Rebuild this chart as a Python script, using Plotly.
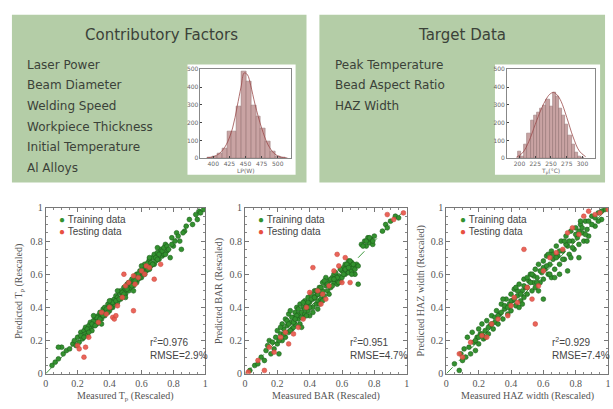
import plotly.graph_objects as go

W, H = 613, 409

# ---------------- data ----------------
factors = ["Laser Power", "Beam Diameter", "Welding Speed", "Workpiece Thickness",
           "Initial Temperature", "Al Alloys"]
targets = ["Peak Temperature", "Bead Aspect Ratio", "HAZ Width"]

# left histogram (laser power)
h1_centers = [395, 402.5, 410, 417.5, 425, 432.5, 440, 447.5, 455, 462.5, 470, 477.5, 485, 492.5, 500, 507.5]
h1_counts = [4, 10, 25, 55, 150, 150, 290, 490, 435, 300, 235, 170, 95, 40, 12, 3]
h1_curve_x = [390, 400, 410, 420, 430, 437, 443, 448, 453, 458, 465, 475, 485, 495, 505, 515]
h1_curve_y = [2, 8, 28, 75, 170, 290, 400, 480, 470, 410, 300, 170, 75, 25, 6, 1]
h1_ticks = [400, 425, 450, 475, 500]

# right histogram (peak temperature)
h2_centers = [200, 205, 210, 215, 220, 225, 230, 235, 240, 245, 250, 255, 260, 265, 270, 275, 280, 285, 290, 295, 300]
h2_counts = [40, 10, 80, 140, 210, 240, 260, 280, 300, 330, 290, 370, 350, 280, 240, 190, 130, 80, 30, 10, 5]
h2_curve_x = [195, 205, 215, 225, 235, 242, 248, 254, 260, 266, 275, 285, 295, 305]
h2_curve_y = [5, 30, 95, 190, 280, 330, 360, 370, 355, 320, 230, 120, 40, 8]
h2_ticks = [200, 225, 250, 275, 300]

# scatter 1 : peak temperature
tp_train_x = [0.04,0.06,0.08,0.10,0.11,0.13,0.15,0.17,0.18,0.19,0.20,0.21,0.22,0.23,0.24,0.25,0.25,0.26,0.27,0.28,
              0.28,0.29,0.30,0.30,0.31,0.32,0.33,0.33,0.34,0.35,0.35,0.36,0.37,0.37,0.38,0.39,0.40,0.40,0.41,0.42,
              0.43,0.43,0.44,0.45,0.45,0.46,0.47,0.47,0.48,0.49,0.50,0.50,0.51,0.52,0.52,0.53,0.54,0.55,0.55,0.56,
              0.57,0.57,0.58,0.59,0.60,0.60,0.61,0.62,0.62,0.63,0.64,0.65,0.65,0.66,0.67,0.68,0.68,0.69,0.70,0.71,
              0.72,0.73,0.74,0.75,0.76,0.78,0.79,0.80,0.82,0.84,0.85,0.87,0.90,0.92,0.94,0.95,0.96,0.97,0.99,0.08,
              0.22,0.24,0.26,0.27,0.29,0.31,0.32,0.34,0.36,0.38,0.39,0.41,0.42,0.44,0.46,0.48,0.49,0.51,0.53,0.54,
              0.56,0.58,0.59,0.61,0.63,0.64,0.66,0.67,0.69,0.70,0.71,0.73,0.74,0.76,0.77,0.79,0.81,0.83,0.86,0.88,
              0.35,0.45,0.55,0.65,0.75,0.30,0.40,0.50,0.60,0.70]
tp_train_y = [0.05,0.07,0.09,0.16,0.12,0.14,0.15,0.18,0.20,0.17,0.22,0.19,0.25,0.21,0.26,0.24,0.28,0.23,0.29,0.27,
              0.31,0.26,0.32,0.29,0.34,0.30,0.35,0.32,0.37,0.33,0.36,0.39,0.35,0.40,0.37,0.42,0.38,0.41,0.44,0.40,
              0.45,0.42,0.47,0.43,0.46,0.49,0.45,0.50,0.47,0.52,0.48,0.51,0.54,0.50,0.55,0.52,0.57,0.53,0.56,0.59,
              0.55,0.60,0.57,0.62,0.58,0.61,0.64,0.60,0.66,0.62,0.67,0.63,0.69,0.65,0.70,0.66,0.72,0.68,0.73,0.69,
              0.75,0.71,0.72,0.78,0.74,0.70,0.82,0.77,0.85,0.80,0.75,0.86,0.93,0.90,0.96,0.93,0.98,0.97,0.99,0.16,
              0.23,0.22,0.27,0.25,0.30,0.29,0.34,0.33,0.35,0.39,0.37,0.40,0.43,0.44,0.45,0.49,0.48,0.51,0.54,0.53,
              0.56,0.60,0.58,0.61,0.64,0.63,0.67,0.66,0.70,0.69,0.72,0.74,0.76,0.77,0.75,0.78,0.80,0.83,0.85,0.89,
              0.30,0.50,0.50,0.70,0.72,0.35,0.44,0.46,0.65,0.76]
tp_test_x = [0.20,0.21,0.25,0.24,0.27,0.33,0.38,0.42,0.43,0.44,0.45,0.48,0.50,0.52,0.55,0.56,0.58,0.60,0.62,0.63,
             0.65,0.68,0.72,0.49,0.55,0.40,0.35]
tp_test_y = [0.17,0.15,0.16,0.10,0.22,0.31,0.36,0.34,0.33,0.35,0.41,0.46,0.53,0.55,0.38,0.54,0.58,0.62,0.60,0.65,
             0.64,0.57,0.66,0.60,0.59,0.40,0.37]

# scatter 2 : bead aspect ratio
bar_train_x = [0.03,0.06,0.08,0.10,0.12,0.13,0.15,0.16,0.18,0.19,0.20,0.20,0.21,0.22,0.23,0.23,0.24,0.25,0.25,0.26,
               0.27,0.27,0.28,0.28,0.29,0.30,0.30,0.31,0.31,0.32,0.33,0.33,0.34,0.34,0.35,0.36,0.36,0.37,0.37,0.38,
               0.39,0.39,0.40,0.40,0.41,0.42,0.42,0.43,0.44,0.44,0.45,0.46,0.46,0.47,0.48,0.48,0.49,0.50,0.50,0.51,
               0.52,0.53,0.54,0.55,0.55,0.56,0.57,0.58,0.59,0.60,0.60,0.61,0.62,0.62,0.63,0.64,0.64,0.65,0.66,0.66,
               0.67,0.68,0.69,0.70,0.72,0.74,0.75,0.76,0.77,0.78,0.79,0.80,0.85,0.87,0.88,0.90,0.93,0.95,0.35,0.45,
               0.14,0.17,0.21,0.22,0.24,0.26,0.28,0.29,0.30,0.32,0.33,0.35,0.36,0.37,0.38,0.40,0.41,0.42,0.43,0.45,
               0.47,0.48,0.49,0.51,0.52,0.53,0.54,0.56,0.57,0.58,0.59,0.61,0.62,0.63,0.64,0.65,0.66,0.67,0.68,0.70,
               0.73,0.75,0.77,0.79,0.44,0.39,0.27,0.31,0.46,0.55]
bar_train_y = [0.02,0.05,0.06,0.10,0.08,0.14,0.20,0.12,0.15,0.22,0.18,0.26,0.12,0.24,0.30,0.20,0.27,0.33,0.22,0.29,
               0.36,0.25,0.31,0.38,0.27,0.34,0.28,0.37,0.30,0.40,0.33,0.36,0.30,0.42,0.37,0.34,0.40,0.44,0.36,0.41,
               0.38,0.46,0.43,0.35,0.48,0.40,0.45,0.50,0.42,0.47,0.44,0.52,0.48,0.45,0.50,0.55,0.47,0.53,0.58,0.50,
               0.56,0.52,0.58,0.55,0.60,0.57,0.54,0.59,0.56,0.62,0.58,0.64,0.60,0.66,0.63,0.68,0.61,0.65,0.62,0.67,
               0.64,0.60,0.66,0.54,0.78,0.80,0.77,0.82,0.79,0.81,0.78,0.83,0.86,0.90,0.88,0.92,0.95,0.94,0.28,0.39,
               0.17,0.19,0.20,0.28,0.24,0.32,0.26,0.34,0.31,0.35,0.39,0.34,0.43,0.39,0.35,0.40,0.45,0.37,0.46,0.48,
               0.52,0.44,0.56,0.54,0.48,0.57,0.53,0.61,0.58,0.55,0.63,0.60,0.63,0.66,0.64,0.68,0.60,0.66,0.63,0.65,
               0.77,0.80,0.82,0.80,0.50,0.43,0.30,0.33,0.42,0.57]
bar_test_x = [0.02,0.08,0.12,0.15,0.18,0.22,0.25,0.27,0.30,0.33,0.38,0.40,0.42,0.45,0.47,0.50,0.52,0.55,0.57,0.58,
              0.60,0.62,0.65,0.88,0.92,0.98,0.48,0.36]
bar_test_y = [0.01,0.08,0.02,0.16,0.13,0.22,0.25,0.18,0.24,0.28,0.40,0.49,0.64,0.50,0.42,0.45,0.53,0.62,0.72,0.65,
              0.55,0.70,0.55,0.96,0.93,0.97,0.48,0.33]

# scatter 3 : HAZ width
haz_train_x = [0.05,0.08,0.09,0.10,0.11,0.12,0.13,0.14,0.15,0.16,0.17,0.18,0.19,0.20,0.20,0.21,0.22,0.23,0.24,0.25,
               0.26,0.27,0.28,0.29,0.30,0.31,0.32,0.33,0.34,0.35,0.36,0.37,0.38,0.39,0.40,0.40,0.41,0.42,0.43,0.44,
               0.45,0.46,0.47,0.48,0.48,0.49,0.50,0.51,0.52,0.53,0.54,0.55,0.55,0.56,0.57,0.58,0.59,0.60,0.60,0.61,
               0.62,0.63,0.64,0.65,0.65,0.66,0.67,0.68,0.69,0.70,0.71,0.72,0.73,0.74,0.75,0.76,0.77,0.78,0.79,0.80,
               0.81,0.82,0.83,0.84,0.85,0.86,0.87,0.88,0.90,0.92,0.94,0.96,0.98,0.60,0.70,0.45,0.50,0.75,0.35,0.82,
               0.18,0.20,0.22,0.24,0.26,0.28,0.30,0.32,0.34,0.36,0.38,0.40,0.42,0.44,0.46,0.48,0.50,0.52,0.54,0.56,
               0.58,0.60,0.62,0.64,0.66,0.68,0.70,0.72,0.74,0.76,0.78,0.80,0.82,0.84,0.86,0.88,0.90,0.92,0.94,0.96,
               0.43,0.47,0.53,0.57,0.63,0.67,0.73,0.77,0.83,0.87]
haz_train_y = [0.06,0.02,0.12,0.08,0.15,0.10,0.22,0.16,0.12,0.25,0.19,0.14,0.22,0.27,0.18,0.24,0.30,0.21,0.26,0.32,
               0.24,0.29,0.35,0.27,0.31,0.38,0.30,0.36,0.42,0.33,0.39,0.45,0.36,0.42,0.48,0.38,0.44,0.51,0.41,0.47,
               0.54,0.44,0.50,0.57,0.46,0.52,0.48,0.56,0.60,0.50,0.55,0.63,0.52,0.58,0.66,0.55,0.61,0.68,0.57,0.63,
               0.71,0.60,0.66,0.74,0.58,0.69,0.63,0.77,0.71,0.66,0.80,0.74,0.69,0.83,0.77,0.72,0.86,0.80,0.75,0.88,
               0.82,0.78,0.90,0.85,0.80,0.92,0.87,0.83,0.95,0.89,0.97,0.93,0.99,0.45,0.60,0.40,0.58,0.62,0.45,0.70,
               0.20,0.22,0.24,0.22,0.28,0.30,0.34,0.35,0.37,0.41,0.40,0.44,0.45,0.50,0.48,0.53,0.52,0.55,0.59,0.55,
               0.62,0.64,0.65,0.60,0.72,0.70,0.74,0.69,0.78,0.80,0.76,0.84,0.86,0.88,0.84,0.92,0.90,0.94,0.92,0.98,
               0.52,0.42,0.60,0.50,0.72,0.58,0.80,0.70,0.92,0.80]
haz_test_x = [0.08,0.10,0.15,0.22,0.25,0.28,0.32,0.38,0.42,0.44,0.48,0.50,0.53,0.55,0.57,0.60,0.64,0.68,0.72,0.75,
              0.78,0.82,0.85,0.88,0.92,0.95,1.00,0.40]
haz_test_y = [0.12,0.10,0.19,0.23,0.22,0.30,0.33,0.35,0.46,0.43,0.75,0.52,0.45,0.30,0.53,0.62,0.70,0.73,0.75,0.85,
              0.88,0.84,0.95,0.98,0.96,0.97,0.99,0.41]

stats = [("0.976", "2.9%"), ("0.951", "4.7%"), ("0.929", "7.4%")]
x_titles = ["Measured T<sub>p</sub> (Rescaled)", "Measured BAR (Rescaled)", "Measured HAZ width (Rescaled)"]
y_titles = ["Predicted T<sub>p</sub> (Rescaled)", "Predicted BAR (Rescaled)", "Predicted HAZ width (Rescaled)"]
unit_ticks = [0, 0.2, 0.4, 0.6, 0.8, 1]
unit_labels = ["0", "0.2", "0.4", "0.6", "0.8", "1"]

# ---------------- helpers ----------------
def px(x):
    return x / W

def py(y):
    return 1 - y / H

GREEN_BG = "#b4cda7"
TXT = "#3b4239"
SERIF = "Liberation Serif"
SANS = "DejaVu Sans"

fig = go.Figure()
shapes = []
annotations = []

# green panels
shapes.append(dict(type="rect", xref="paper", yref="paper", x0=px(9), x1=px(306), y0=py(182), y1=py(10),
                   fillcolor=GREEN_BG, line=dict(width=0), layer="below"))
shapes.append(dict(type="rect", xref="paper", yref="paper", x0=px(319), x1=px(607), y0=py(182), y1=py(10),
                   fillcolor=GREEN_BG, line=dict(width=0), layer="below"))
# white boxes behind histograms
shapes.append(dict(type="rect", xref="paper", yref="paper", x0=px(186), x1=px(295), y0=py(174), y1=py(61),
                   fillcolor="white", line=dict(width=0), layer="below"))
shapes.append(dict(type="rect", xref="paper", yref="paper", x0=px(496), x1=px(602), y0=py(174), y1=py(61),
                   fillcolor="white", line=dict(width=0), layer="below"))

annotations.append(dict(text="Contributory Factors", x=px(160), y=py(31), xref="paper", yref="paper",
                        showarrow=False, font=dict(family=SANS, size=15, color=TXT), xanchor="center", yanchor="middle"))
annotations.append(dict(text="Target Data", x=px(463), y=py(31), xref="paper", yref="paper",
                        showarrow=False, font=dict(family=SANS, size=15, color=TXT), xanchor="center", yanchor="middle"))
for i, t in enumerate(factors):
    annotations.append(dict(text=t, x=px(22), y=py(61 + i * 21.2), xref="paper", yref="paper", showarrow=False,
                            font=dict(family=SANS, size=12, color=TXT), xanchor="left", yanchor="middle"))
for i, t in enumerate(targets):
    annotations.append(dict(text=t, x=px(333), y=py(61 + i * 21.2), xref="paper", yref="paper", showarrow=False,
                            font=dict(family=SANS, size=12, color=TXT), xanchor="left", yanchor="middle"))

# ---------------- histograms ----------------
hist_specs = [
    (h1_centers, h1_counts, h1_curve_x, h1_curve_y, h1_ticks, 7.5, [380, 520], (199, 290), "LP(W)"),
    (h2_centers, h2_counts, h2_curve_x, h2_curve_y, h2_ticks, 5, [180, 320], (508, 597), "T<sub>p</sub>(°C)"),
]
layout_axes = {}
for k, (cx, cy, kx, ky, ticks, wdt, rng, (xl, xr), lab) in enumerate(hist_specs):
    n = k + 1
    xa = "x" if n == 1 else f"x{n}"
    ya = "y" if n == 1 else f"y{n}"
    fig.add_trace(go.Bar(x=cx, y=cy, width=wdt, xaxis=xa, yaxis=ya,
                         marker=dict(color="#c9a3a3", line=dict(color="#8c6a6a", width=0.5)), showlegend=False))
    fig.add_trace(go.Scatter(x=kx, y=ky, mode="lines", xaxis=xa, yaxis=ya, line=dict(color="#9a4a4a", width=0.8, shape="spline"),
                             showlegend=False))
    axname = "xaxis" if n == 1 else f"xaxis{n}"
    ayname = "yaxis" if n == 1 else f"yaxis{n}"
    layout_axes[axname] = dict(domain=[px(xl), px(xr)], anchor=ya, range=rng, tickvals=ticks,
                               ticks="inside", ticklen=2, showgrid=False, zeroline=False, showline=True,
                               linecolor="#888", linewidth=0.6, mirror=True,
                               tickfont=dict(family=SANS, size=6, color="#666"))
    layout_axes[ayname] = dict(domain=[py(157), py(66)], anchor=xa, range=[0, 500], tickvals=[0, 100, 200, 300, 400, 500],
                               ticks="inside", ticklen=2, showgrid=False, zeroline=False, showline=True,
                               linecolor="#888", linewidth=0.6, mirror=True,
                               tickfont=dict(family=SANS, size=6, color="#666"))
    annotations.append(dict(text=lab, x=px((xl + xr) / 2), y=py(170), xref="paper", yref="paper", showarrow=False,
                            font=dict(family=SANS, size=6, color="#666"), xanchor="center", yanchor="middle"))

# ---------------- scatter plots ----------------
scatter_specs = [
    (tp_train_x, tp_train_y, tp_test_x, tp_test_y, (43, 204)),
    (bar_train_x, bar_train_y, bar_test_x, bar_test_y, (244, 407)),
    (haz_train_x, haz_train_y, haz_test_x, haz_test_y, (447, 610)),
]
for k, (trx, try_, tex, tey, (xl, xr)) in enumerate(scatter_specs):
    n = k + 3
    xa, ya = f"x{n}", f"y{n}"
    fig.add_trace(go.Scatter(x=[0, 1], y=[0, 1], mode="lines", xaxis=xa, yaxis=ya,
                             line=dict(color="#3f9a3f", width=1, dash="dash"), showlegend=False))
    fig.add_trace(go.Scatter(x=trx, y=try_, mode="markers", xaxis=xa, yaxis=ya, showlegend=False,
                             marker=dict(size=4.8, color="#33922f", line=dict(color="#1d5e1b", width=0.6))))
    fig.add_trace(go.Scatter(x=tex, y=tey, mode="markers", xaxis=xa, yaxis=ya, showlegend=False,
                             marker=dict(size=4.8, color="rgba(232,84,72,0.9)", line=dict(color="#c8443a", width=0.5))))
    common = dict(range=[0, 1], tickvals=unit_ticks, ticktext=unit_labels, ticks="inside", ticklen=4,
                  showgrid=False, zeroline=False, showline=True, linecolor="#777", linewidth=1, mirror="allticks",
                  tickcolor="#777", tickfont=dict(family=SERIF, size=10, color="#555"),
                  minor=dict(ticks="inside", ticklen=2, dtick=0.05, tickcolor="#888"))
    layout_axes[f"xaxis{n}"] = dict(domain=[px(xl), px(xr)], anchor=ya, **common)
    layout_axes[f"yaxis{n}"] = dict(domain=[py(378), py(208)], anchor=xa, **common)

    xref, yref = xa, ya
    annotations.append(dict(text="<span style='color:#33922f'>●</span> Training data", x=0.07, y=0.93,
                            xref=xref, yref=yref, showarrow=False, xanchor="left", yanchor="middle",
                            font=dict(family="Liberation Sans", size=10, color="#444")))
    annotations.append(dict(text="<span style='color:#e8503f'>●</span> Testing data", x=0.07, y=0.855,
                            xref=xref, yref=yref, showarrow=False, xanchor="left", yanchor="middle",
                            font=dict(family="Liberation Sans", size=10, color="#444")))
    r2, rmse = stats[k]
    annotations.append(dict(text="r<sup>2</sup>=" + r2, x=0.64, y=0.19, xref=xref, yref=yref, showarrow=False,
                            xanchor="left", yanchor="middle", font=dict(family="Liberation Sans", size=10, color="#444")))
    annotations.append(dict(text="RMSE=" + rmse, x=0.64, y=0.11, xref=xref, yref=yref, showarrow=False,
                            xanchor="left", yanchor="middle", font=dict(family="Liberation Sans", size=10, color="#444")))
    annotations.append(dict(text=x_titles[k], x=px((xl + xr) / 2), y=py(401), xref="paper", yref="paper",
                            showarrow=False, xanchor="center", yanchor="middle",
                            font=dict(family=SERIF, size=10, color="#555")))
    annotations.append(dict(text=y_titles[k], x=px(xl - 26), y=py(293), xref="paper", yref="paper",
                            showarrow=False, xanchor="center", yanchor="middle", textangle=-90,
                            font=dict(family=SERIF, size=10, color="#555")))

fig.update_layout(width=W, height=H, margin=dict(l=0, r=0, t=0, b=0), paper_bgcolor="white",
                  plot_bgcolor="rgba(0,0,0,0)", shapes=shapes, annotations=annotations, bargap=0,
                  showlegend=False, **layout_axes)
fig.write_html("out.html", config={"displayModeBar": False},
               post_script="document.body.style.margin='0px';document.body.style.overflow='hidden';")
